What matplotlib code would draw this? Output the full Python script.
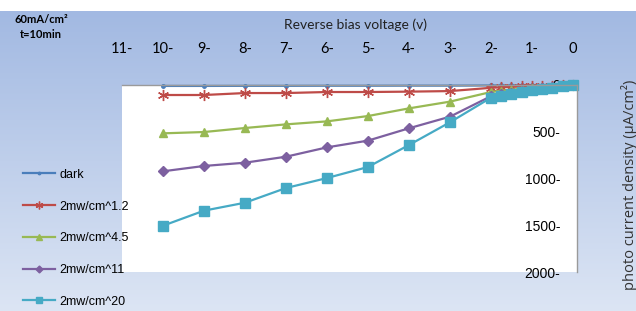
import numpy as np
import matplotlib
matplotlib.use('Agg')
import matplotlib.pyplot as plt

# reverse bias voltage (V), dense near 0
volts = [-10, -9, -8, -7, -6, -5, -4, -3, -2,
         -1.75, -1.5, -1.25, -1, -0.75, -0.5, -0.25, 0]

# photo current density (uA/cm^2)
dark = [10, 10, 9, 9, 8, 8, 7, 7, 5, 4, 4, 3, 3, 2, 2, 1, 0]
p1_2 = [107, 107, 86, 86, 75, 75, 71, 65, 30, 25, 20, 16, 12, 9, 6, 3, 1]
p4_5 = [517, 503, 460, 421, 389, 332, 250, 178, 75, 62, 50, 40, 30, 22, 14, 8, 2]
p11 = [923, 866, 831, 767, 667, 595, 463, 339, 120, 100, 82, 65, 50, 36, 24, 12, 4]
p20 = [1505, 1344, 1259, 1102, 995, 877, 642, 399, 136, 115, 95, 75, 58, 42, 28, 15, 5]

series_names = ['dark', '2mw/cm^1.2', '2mw/cm^4.5', '2mw/cm^11', '2mw/cm^20']

xticks = [-11, -10, -9, -8, -7, -6, -5, -4, -3, -2, -1, 0]
xticklabels = ['11-', '10-', '9-', '8-', '7-', '6-', '5-', '4-', '3-', '2-', '1-', '0']
yticks = [0, 500, 1000, 1500, 2000]
yticklabels = ['0', '500-', '1000-', '1500-', '2000-']

fig = plt.figure(figsize=(6.36, 3.11), dpi=100)
fig.patch.set_facecolor('white')

# gradient background
bg = fig.add_axes([0, 0, 1, 300 / 311])
top = np.array([162, 185, 226]) / 255
bot = np.array([220, 229, 244]) / 255
t = np.linspace(0, 1, 256)[:, None]
grad = top[None, :] * (1 - t) + bot[None, :] * t
bg.imshow(grad[:, None, :], aspect='auto', extent=[0, 1, 0, 1])
bg.axis('off')

ax = fig.add_axes([122 / 636, 39 / 311, 455 / 636, 187 / 311])
ax.set_facecolor('white')

styles = [
    dict(color='#4a7ebb', marker='o', markersize=2.5),
    dict(color='#be4b48', marker=(6, 2, 0), markersize=8, markeredgewidth=1),
    dict(color='#98b954', marker='^', markersize=6),
    dict(color='#7d60a0', marker='D', markersize=5),
    dict(color='#46aac5', marker='s', markersize=7),
]
for ys, name, st in zip([dark, p1_2, p4_5, p11, p20], series_names, styles):
    ax.plot(volts, ys, linewidth=1.6, label=name, clip_on=False, **st)

ax.set_xlim(-11, 0.1)
ax.set_ylim(2000, 0)

ax.xaxis.tick_top()
ax.set_xticks(xticks)
ax.set_xticklabels(xticklabels, fontsize=10.5, family='Lato')
ax.tick_params(axis='x', length=0, pad=21)

ax.yaxis.tick_right()
ax.set_yticks(yticks)
ax.set_yticklabels(yticklabels, fontsize=10, family='Liberation Sans')
ax.tick_params(axis='y', length=0, pad=-12)
for lab in ax.get_yticklabels():
    lab.set_horizontalalignment('right')

for s in ['left', 'bottom']:
    ax.spines[s].set_visible(False)
for s in ['top', 'right']:
    ax.spines[s].set_color('#9a9a9a')
    ax.spines[s].set_linewidth(1)

fig.text(355 / 636, 1 - 25 / 311, 'Reverse bias voltage (v)', ha='center', va='center',
         fontsize=10, family='Lato', color='#222222')
fig.text(629 / 636, 1 - 185 / 311, 'photo current density (\u00b5A/cm\u00b2)', rotation=90,
         ha='center', va='center', fontsize=10.5, family='Open Sans', color='#333333')
fig.text(41 / 636, 1 - 27 / 311, '60mA/cm\u00b2\nt=10min', ha='center', va='center',
         fontsize=8, fontweight='bold', family='Lato', linespacing=1.5)

fig.legend(loc='upper left', bbox_to_anchor=(19 / 636, 1 - 165 / 311), frameon=False,
           handlelength=2.6, labelspacing=1.58, handletextpad=0.3, markerscale=0.7,
           borderaxespad=0, borderpad=0.3,
           prop={'family': 'Liberation Sans', 'size': 9})

fig.savefig('out.png', dpi=100, facecolor=fig.get_facecolor())
